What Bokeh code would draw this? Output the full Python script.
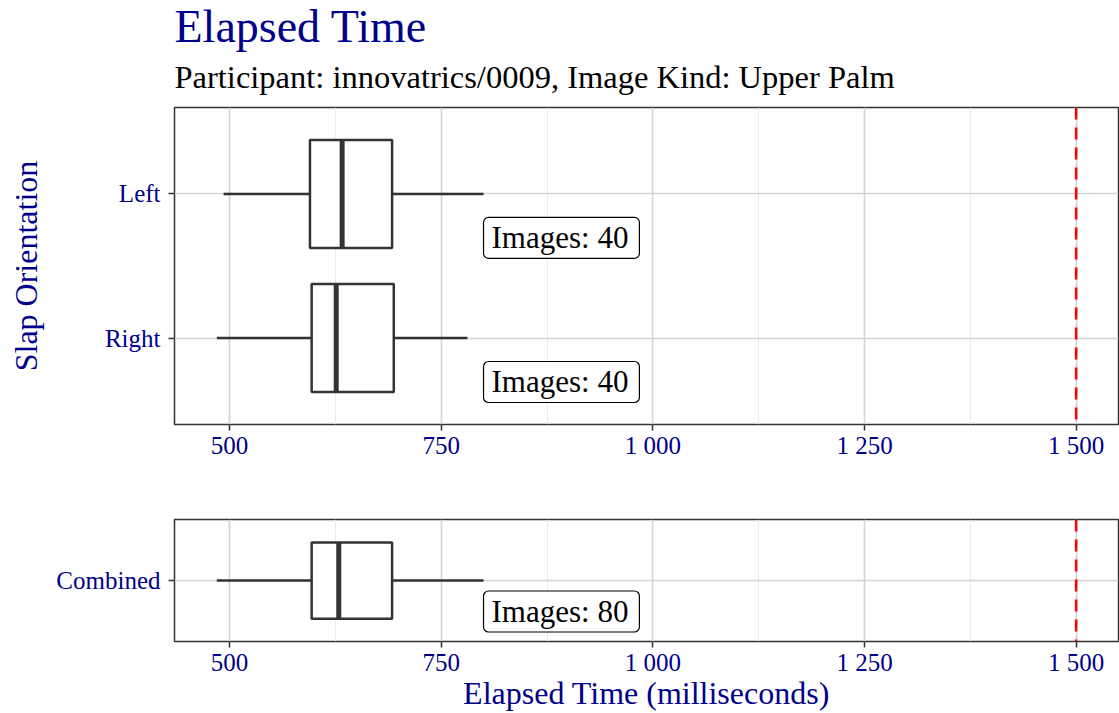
from bokeh.plotting import figure
from bokeh.models import (Range1d, FactorRange, FixedTicker, CustomJSTickFormatter,
                          Title, Span, ColumnDataSource)
from bokeh.layouts import column
from bokeh.transform import dodge
from bokeh.embed import file_html
from bokeh.resources import INLINE
from bokeh.core.properties import value

FONT = "Liberation Serif"
NAVY = "#00008B"
DARK = "#333333"

# ---- data ----
top_groups = ["Left", "Right"]
top_min = [493, 485]
top_q1 = [595, 597]
top_median = [633, 626]
top_q3 = [692, 694]
top_max = [800, 781]
top_count = [40, 40]

comb_groups = ["Combined"]
comb_min = [485]
comb_q1 = [597]
comb_median = [629]
comb_q3 = [692]
comb_max = [800]
comb_count = [80]

threshold = 1500
x_ticks = [500, 750, 1000, 1250, 1500]
x_minor_ticks = [625, 875, 1125, 1375]

title_text = "Elapsed Time"
subtitle_text = "Participant: innovatrics/0009, Image Kind: Upper Palm"
y_label = "Slap Orientation"
x_label = "Elapsed Time (milliseconds)"

label_x = max(top_max + comb_max)

fmt = CustomJSTickFormatter(code="return tick.toString().replace(/\\B(?=(\\d{3})+(?!\\d))/g, ' ');")


def make_panel(groups, mins, q1, med, q3, mx, counts, height, b_top, b_bottom):
    yr = FactorRange(factors=list(reversed(groups)), range_padding=0.1,
                     range_padding_units="absolute")
    p = figure(width=1119, height=height, y_range=yr, x_range=Range1d(435, 1550),
               output_backend="svg", toolbar_location=None,
               min_border_left=174, min_border_right=1,
               min_border_top=b_top, min_border_bottom=b_bottom)
    p.outline_line_color = DARK
    p.outline_line_width = 1.5
    p.background_fill_color = "white"
    p.border_fill_color = "white"

    src = ColumnDataSource(dict(
        g=groups, mn=mins, q1=q1, med=med, q3=q3, mx=mx,
        label=[f"Images: {c}" for c in counts],
        lx=[label_x] * len(groups),
    ))

    p.segment(x0="mn", y0="g", x1="q1", y1="g", source=src, line_color=DARK, line_width=2.5)
    p.segment(x0="q3", y0="g", x1="mx", y1="g", source=src, line_color=DARK, line_width=2.5)
    p.hbar(y="g", left="q1", right="q3", height=0.75, source=src,
           fill_color="white", line_color=DARK, line_width=2.5)
    p.segment(x0="med", x1="med",
              y0=dodge("g", -0.375, range=p.y_range), y1=dodge("g", 0.375, range=p.y_range),
              source=src, line_color=DARK, line_width=5)

    p.add_layout(Span(location=threshold, dimension="height", line_color="red",
                      line_width=2.5, line_dash="12 8"))

    p.text(x="lx", y=dodge("g", -0.305, range=p.y_range), text="label", source=src,
           text_font=value(FONT), text_font_size="31px", text_color="black",
           text_align="left", text_baseline="middle",
           background_fill_color="white", border_line_color="black", border_line_width=1.2,
           border_radius=5, padding=dict(left=8, right=11, top=3, bottom=3))

    # axes
    p.xaxis.ticker = FixedTicker(ticks=x_ticks, minor_ticks=x_minor_ticks)
    p.xaxis.formatter = fmt
    for ax in (p.xaxis[0], p.yaxis[0]):
        ax.axis_line_color = None
        ax.major_tick_line_color = DARK
        ax.major_tick_line_width = 1.5
        ax.major_tick_out = 6
        ax.major_tick_in = 0
        ax.minor_tick_line_color = None
        ax.major_label_text_font = FONT
        ax.major_label_text_font_size = "25px"
        ax.major_label_text_color = NAVY
        ax.axis_label_text_font = FONT
        ax.axis_label_text_font_size = "32px"
        ax.axis_label_text_font_style = "normal"
        ax.axis_label_text_color = NAVY
    p.xaxis.major_label_standoff = 1
    p.yaxis.major_label_standoff = 8

    p.xgrid.grid_line_color = "#d4d4d4"
    p.xgrid.grid_line_width = 1.6
    p.xgrid.minor_grid_line_color = "#ebebeb"
    p.xgrid.minor_grid_line_width = 1
    p.ygrid.grid_line_color = "#d4d4d4"
    p.ygrid.grid_line_width = 1.6
    return p


top = make_panel(top_groups, top_min, top_q1, top_median, top_q3, top_max, top_count,
                 height=468, b_top=107, b_bottom=44)
top.yaxis.axis_label = y_label
top.yaxis.axis_label_standoff = 58
top.add_layout(Title(text=subtitle_text, text_font=FONT, text_font_size="32.5px",
                     text_font_style="normal", text_color="black", standoff=25), "above")
top.add_layout(Title(text=title_text, text_font=FONT, text_font_size="46px",
                     text_font_style="normal", text_color=NAVY, standoff=-15), "above")

bottom = make_panel(comb_groups, comb_min, comb_q1, comb_median, comb_q3, comb_max, comb_count,
                    height=245, b_top=51, b_bottom=71)
bottom.xaxis.axis_label = x_label
bottom.xaxis.axis_label_standoff = -4

layout = column(top, bottom, spacing=0)
open("out.html", "w").write(file_html(layout, INLINE))
